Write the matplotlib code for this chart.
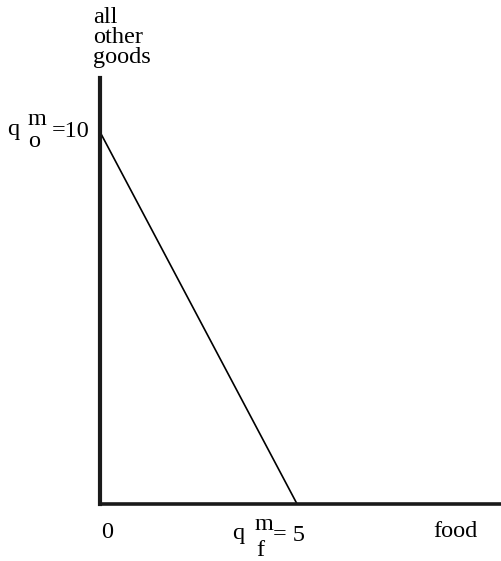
import matplotlib
matplotlib.use('Agg')
import matplotlib.pyplot as plt

# budget line: all income on other goods vs. all income on food
q_other_max = 10
q_food_max = 5
budget_x = [0, q_food_max]
budget_y = [q_other_max, 0]

plt.rcParams['font.family'] = ['Liberation Serif', 'DejaVu Serif']
FS = 17.5

fig = plt.figure(figsize=(5.02, 5.61), dpi=100)
ax = fig.add_axes([100 / 502, 57 / 561, 402 / 502, 426 / 561])
ax.set_xlim(0, 10.2)
ax.set_ylim(0, 11.45)

ax.plot(budget_x, budget_y, color='black', lw=1.2, solid_capstyle='butt')

for side in ['top', 'right']:
    ax.spines[side].set_visible(False)
ax.spines['left'].set_linewidth(3.0)
ax.spines['bottom'].set_linewidth(2.6)
for side in ['left', 'bottom']:
    ax.spines[side].set_color('#1a1a1a')
ax.set_xticks([])
ax.set_yticks([])
ax.patch.set_alpha(0)


def label(x, y, s):
    ax.text(x, y, s, ha='left', va='baseline', fontsize=FS, clip_on=False)


# axis titles
label(-0.18, 12.92, 'all')
label(-0.18, 12.38, 'other')
label(-0.18, 11.86, 'goods')
label(8.45, -0.89, 'food')
label(0.03, -0.91, '0')

# intercept on the vertical axis
y0 = q_other_max
label(-2.36, y0 - 0.08, 'q')
label(-1.85, y0 + 0.19, 'm')
label(-1.83, y0 - 0.40, 'o')
label(-1.22, y0 - 0.13, '=10')

# intercept on the horizontal axis
x0 = q_food_max
label(x0 - 1.65, -0.94, 'q')
label(x0 - 1.07, -0.70, 'm')
label(x0 - 1.04, -1.40, 'f')
label(x0 - 0.61, -0.99, '= 5')

fig.savefig('out.png', dpi=100)
